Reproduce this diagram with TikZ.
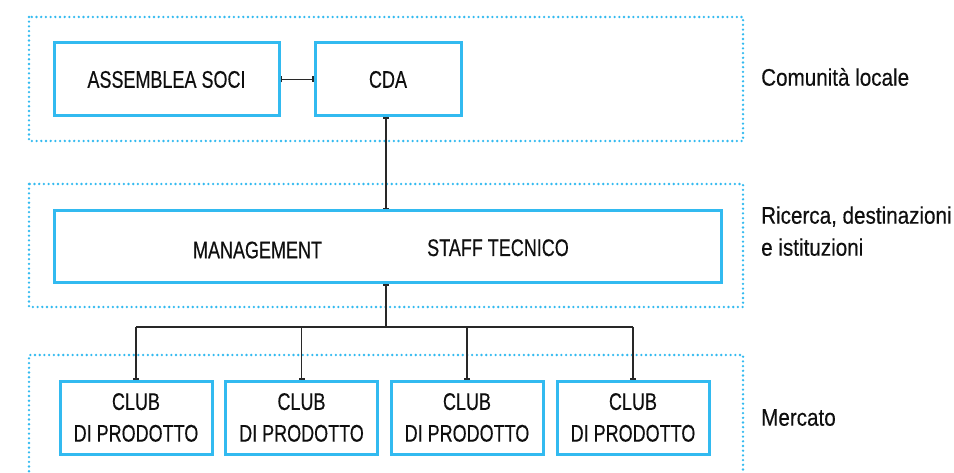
\documentclass[tikz,border=0pt]{standalone}
\usepackage{fontspec}
\setmainfont[FakeStretch=0.75,FakeBold=0.35]{Liberation Sans}
\newfontfamily\lblfont[FakeStretch=0.86,FakeBold=0.35]{Liberation Sans}
\usetikzlibrary{arrows.meta}
\definecolor{skyb}{RGB}{50,186,240}
\definecolor{ink}{RGB}{15,15,15}
\definecolor{wire}{RGB}{40,40,40}
\tikzset{
  zone/.style={draw=skyb, line width=2.6pt, line cap=round, dash pattern=on 0pt off 4.7pt},
  unit/.style={draw=skyb, line width=3pt, fill=white, inner sep=0pt, text=ink,
               font=\fontsize{24}{31.7}\selectfont, align=center},
  txt/.style={inner sep=0pt, text=ink, font=\fontsize{24}{31.7}\selectfont},
  lbl/.style={inner sep=0pt, text=ink, anchor=base west, align=left,
              font=\lblfont\fontsize{24}{32}\selectfont},
  wireline/.style={draw=wire, line width=1.4pt},
  twobar/.style={wireline, {Bar[width=6pt,line width=1.4pt]}-{Bar[width=6pt,line width=1.4pt]}},
  endbar/.style={wireline, -{Bar[width=6pt,line width=1.4pt]}},
  startbar/.style={wireline, {Bar[width=6pt,line width=1.4pt]}-}
}
\begin{document}
\begin{tikzpicture}[x=1pt,y=-1pt]
\useasboundingbox (0,0) rectangle (954,473);
\fill[white] (0,0) rectangle (954,473);
% zones
\draw[zone] (29,17) rectangle (743,141);
\draw[zone] (29,184) rectangle (743,307);
\draw[zone] (29,490) -- (29,355) -- (743,355) -- (743,490);
% boxes
\node[unit, minimum width=225pt, minimum height=73pt] (asm) at (166.5,79.5) {ASSEMBLEA SOCI};
\node[unit, minimum width=146pt, minimum height=73pt] (cda) at (388,79.5) {CDA};
\node[unit, minimum width=667pt, minimum height=72pt] (mgmt) at (387.5,246.7) {};
\node[txt, anchor=base] (mgt) at (257.5,258.3) {MANAGEMENT};
\node[txt, anchor=base] (stf) at (498,256) {STAFF TECNICO};
\node[unit, minimum width=152pt, minimum height=73pt] (c1) at (136,417.5) {CLUB\\DI PRODOTTO};
\node[unit, minimum width=152pt, minimum height=73pt] (c2) at (301.5,417.5) {CLUB\\DI PRODOTTO};
\node[unit, minimum width=152pt, minimum height=73pt] (c3) at (467,417.5) {CLUB\\DI PRODOTTO};
\node[unit, minimum width=152pt, minimum height=73pt] (c4) at (633,417.5) {CLUB\\DI PRODOTTO};
% labels
\node[lbl] (l1) at (761,85.7) {Comunità locale};
\node[lbl] (l2) at (761,255.7) {Ricerca, destinazioni\\e istituzioni};
\node[lbl] (l3) at (761,425.7) {Mercato};
% connectors
\coordinate (br) at (386,327);
\draw[twobar] (asm.east) -- (cda.west);
\draw[twobar] (cda.south -| br) -- (mgmt.north -| br);
\draw[startbar] (mgmt.south -| br) -- (br);
\draw[wireline] (c1.north |- br) -- (c4.north |- br);
\draw[endbar] (c1.north |- br) -- (c1.north);
\draw[endbar] (c2.north |- br) -- (c2.north);
\draw[endbar] (c3.north |- br) -- (c3.north);
\draw[endbar] (c4.north |- br) -- (c4.north);
\end{tikzpicture}
\end{document}
